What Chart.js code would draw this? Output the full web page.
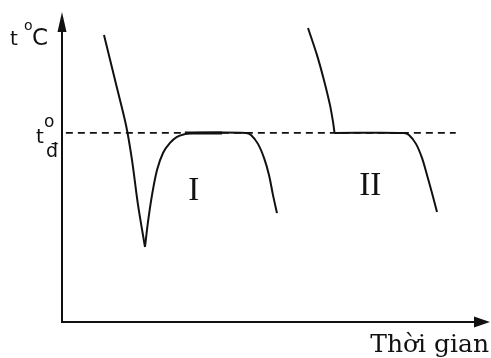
<!DOCTYPE html>
<html lang="vi">
<head>
    <meta charset="UTF-8">
    <title>Đường nguội</title>
    <script src="https://cdn.jsdelivr.net/npm/chart.js"></script>
    <style>
        body { margin: 0; background: #fff; }
        #wrap { width: 491px; height: 358px; }
    </style>
</head>
<body>
    <div id="wrap"><canvas id="coolChart"></canvas></div>

    <script>
        // temperature / time in arbitrary units (0..100 on both axes)
        const T_D = 62;                        // crystallisation temperature t_đ
        const dashX = [0.9, 92];

        // curve I : undercooled melt (descent, then rise + plateau + fall)
        const curve1DownX = [9.81, 12.62, 14.95, 16.36, 17.76, 19.39];
        const curve1DownY = [94.1, 78.0, 64.6, 53.1, 38.4, 24.6];
        const curve1UpX = [19.39, 20.09, 21.03, 22.20, 23.60, 25.23, 26.87, 28.74, 30.37, 42.99, 44.16, 45.79, 47.20, 48.36, 49.30, 50.23];
        const curve1UpY = [24.6, 32.8, 41.6, 49.8, 55.4, 58.7, 60.7, 61.6, 62, 62, 61.3, 58.4, 53.8, 48.2, 41.6, 35.7];
        const plateau1X = [28.7, 37.4];

        // curve II
        const curve2DownX = [57.48, 59.58, 61.21, 62.62, 63.32, 63.67];
        const curve2DownY = [96.4, 87.5, 79.3, 71.1, 65.6, 62];
        const curve2FlatX = [63.67, 79.91, 81.07, 82.71, 84.11, 85.28, 86.45, 87.62];
        const curve2FlatY = [62, 62, 61.3, 58.4, 53.8, 48.2, 42.3, 36.1];

        const romanLabels = ['I', 'II'];
        const romanX = [30.8, 72.0];
        const romanY = [43, 44.6];

        const toPts = (xs, ys) => xs.map((x, i) => ({ x: x, y: ys[i] }));

        const curve = (label, xs, ys) => ({
            label: label,
            data: toPts(xs, ys),
            showLine: true,
            borderColor: '#111',
            borderWidth: 2,
            tension: 0.3,
            pointRadius: 0
        });

        // axes with arrows + text labels
        const decor = {
            id: 'decor',
            afterDraw(chart) {
                const ctx = chart.ctx;
                const xs = chart.scales.x, ys = chart.scales.y;
                const x0 = xs.getPixelForValue(0), y0 = ys.getPixelForValue(0);
                const xEnd = xs.getPixelForValue(100), yTop = ys.getPixelForValue(100);
                ctx.save();
                ctx.strokeStyle = '#111';
                ctx.fillStyle = '#111';
                ctx.lineWidth = 2;
                ctx.beginPath();
                ctx.moveTo(x0, yTop + 4);
                ctx.lineTo(x0, y0);
                ctx.lineTo(xEnd - 6, y0);
                ctx.stroke();
                // arrow heads
                ctx.beginPath();
                ctx.moveTo(x0, yTop - 5);
                ctx.lineTo(x0 - 4.5, yTop + 15);
                ctx.lineTo(x0 + 4.5, yTop + 15);
                ctx.closePath();
                ctx.fill();
                ctx.beginPath();
                ctx.moveTo(xEnd, y0);
                ctx.lineTo(xEnd - 16, y0 - 5.5);
                ctx.lineTo(xEnd - 16, y0 + 5.5);
                ctx.closePath();
                ctx.fill();

                // axis titles
                ctx.textBaseline = 'alphabetic';
                ctx.textAlign = 'left';
                ctx.font = '20px "DejaVu Sans"';
                ctx.fillText('t', 10, 45);
                ctx.font = '14px "DejaVu Sans"';
                ctx.fillText('o', 24, 30);
                ctx.font = '23px "DejaVu Sans"';
                ctx.fillText('C', 32, 45);

                const yd = ys.getPixelForValue(T_D);
                ctx.font = '20px "DejaVu Sans"';
                ctx.fillText('t', 36, yd + 10);
                ctx.font = '17px "DejaVu Sans"';
                ctx.fillText('o', 44, yd - 6);
                ctx.font = '19px "DejaVu Sans"';
                ctx.fillText('đ', 46, yd + 24);

                ctx.font = '25px "DejaVu Serif"';
                ctx.textAlign = 'right';
                ctx.fillText('Thời gian', 489, 352);

                ctx.font = '33px "Liberation Serif"';
                ctx.textAlign = 'center';
                ctx.textBaseline = 'middle';
                romanLabels.forEach((t, i) => {
                    ctx.fillText(t, xs.getPixelForValue(romanX[i]), ys.getPixelForValue(romanY[i]));
                });
                ctx.restore();
            }
        };

        const ctx = document.getElementById('coolChart').getContext('2d');
        new Chart(ctx, {
            type: 'scatter',
            data: {
                datasets: [
                    {
                        label: 't_đ',
                        data: toPts(dashX, [T_D, T_D]),
                        showLine: true,
                        borderColor: '#111',
                        borderWidth: 1.6,
                        borderDash: [7, 5],
                        pointRadius: 0
                    },
                    curve('I descent', curve1DownX, curve1DownY),
                    curve('I', curve1UpX, curve1UpY),
                    {
                        label: 'I plateau',
                        data: toPts(plateau1X, [T_D, T_D]),
                        showLine: true,
                        borderColor: '#111',
                        borderWidth: 3,
                        pointRadius: 0
                    },
                    curve('II descent', curve2DownX, curve2DownY),
                    curve('II', curve2FlatX, curve2FlatY)
                ]
            },
            options: {
                responsive: true,
                maintainAspectRatio: false,
                animation: false,
                layout: { padding: { left: 62, right: 1, top: 17, bottom: 36 } },
                plugins: {
                    legend: { display: false },
                    tooltip: { enabled: false }
                },
                scales: {
                    x: { type: 'linear', display: false, min: 0, max: 100 },
                    y: { type: 'linear', display: false, min: 0, max: 100 }
                }
            },
            plugins: [decor]
        });
    </script>
</body>
</html>
